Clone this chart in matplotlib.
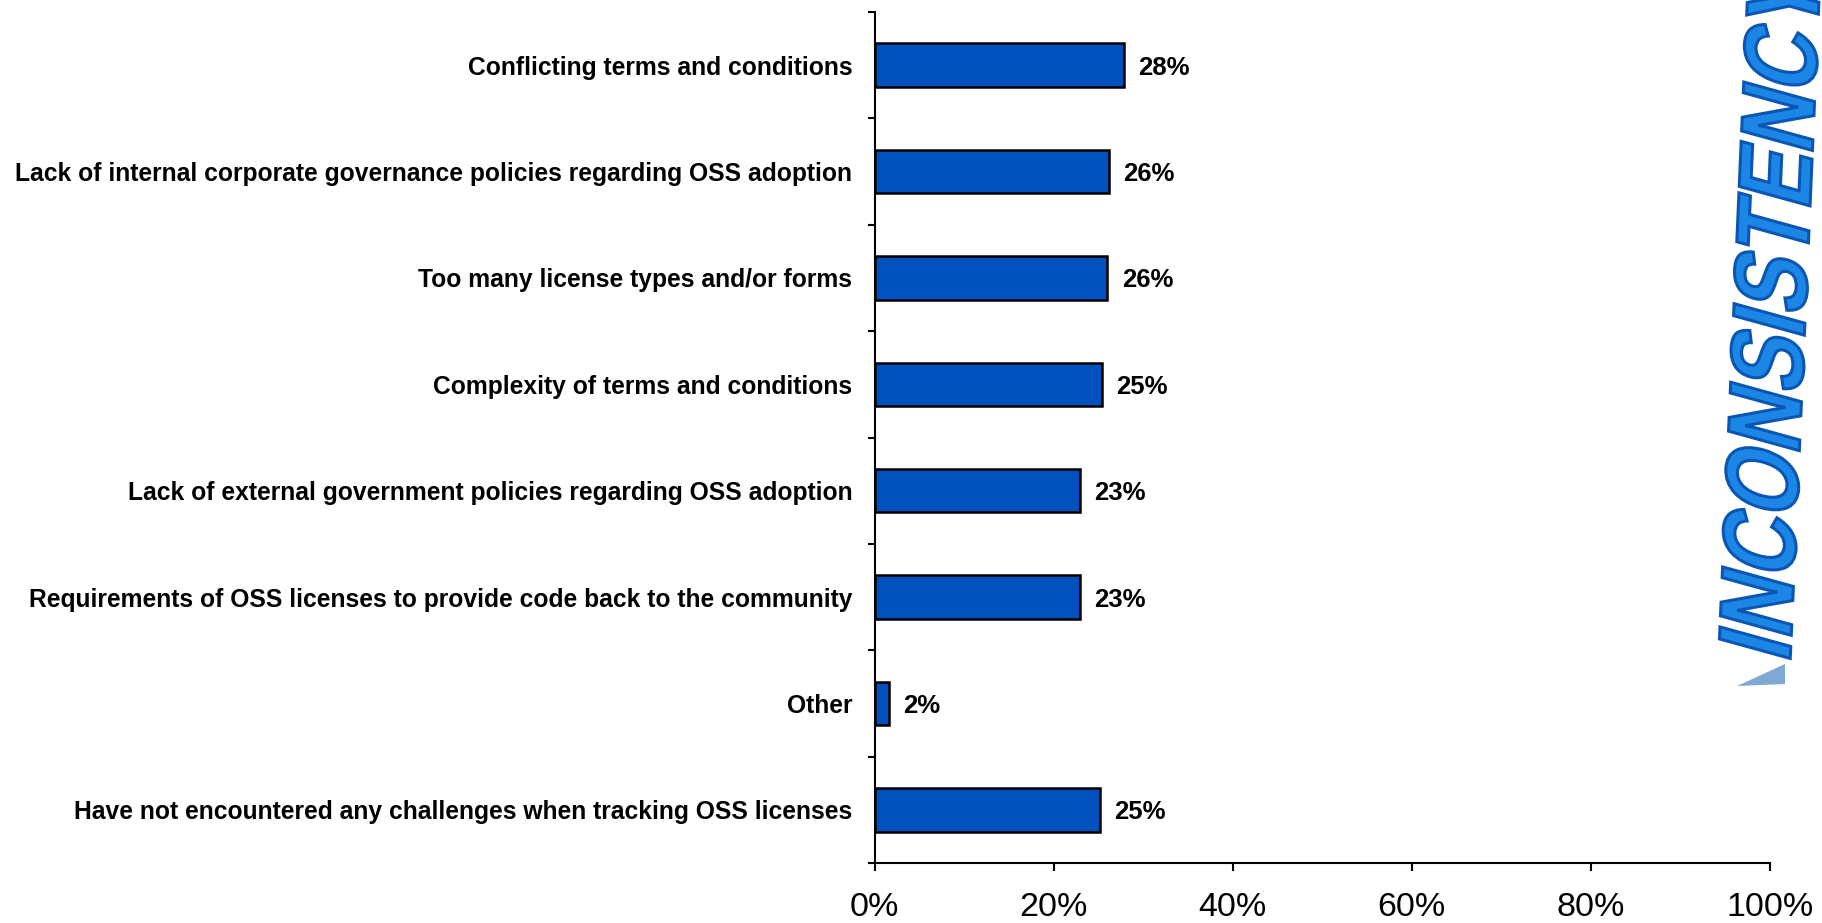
import matplotlib.pyplot as plt
from matplotlib.ticker import FuncFormatter
from matplotlib.textpath import TextPath
from matplotlib.patches import PathPatch, Polygon
from matplotlib.font_manager import FontProperties
from matplotlib.transforms import Affine2D

categories = [
    "Conflicting terms and conditions",
    "Lack of internal corporate governance policies regarding OSS adoption",
    "Too many license types and/or forms",
    "Complexity of terms and conditions",
    "Lack of external government policies regarding OSS adoption",
    "Requirements of OSS licenses to provide code back to the community",
    "Other",
    "Have not encountered any challenges when tracking OSS licenses",
]
values = [27.8, 26.2, 26.0, 25.4, 22.9, 22.9, 1.6, 25.2]
value_labels = ["28%", "26%", "26%", "25%", "23%", "23%", "2%", "25%"]
x_ticks = [0, 20, 40, 60, 80, 100]
word_art = "INCONSISTENCY"

FONT = ["Liberation Sans", "DejaVu Sans"]
plt.rcParams["font.family"] = FONT

DPI = 100
fig = plt.figure(figsize=(18.22, 9.23), dpi=DPI)
ax = fig.add_axes([0.480, 0.065, 0.4915, 0.922])

y = list(range(len(categories)))
bars = ax.barh(y, values, height=0.41, color="#0050BE", edgecolor="black",
               linewidth=1.8)

for bar, lab in zip(bars, value_labels):
    ax.text(bar.get_width() + 1.6, bar.get_y() + bar.get_height() / 2, lab,
            va="center_baseline", ha="left", fontsize=18.5, fontweight="bold")

ax.set_ylim(len(categories) - 0.5, -0.5)
ax.set_xlim(0, 100)

# labels at bar centres, tick marks on the category boundaries
ax.set_yticks(y)
ax.set_yticklabels(categories, fontsize=17.7, fontweight="bold")
ax.tick_params(axis="y", length=0, pad=16)
ax.set_yticks([i + 0.5 for i in range(-1, len(categories))], minor=True)
ax.tick_params(axis="y", which="minor", length=5, width=1.5, direction="out")

ax.set_xticks(x_ticks)
ax.xaxis.set_major_formatter(FuncFormatter(lambda v, p: f"{v:.0f}%"))
ax.tick_params(axis="x", length=6, width=1.5, direction="out", pad=15,
               labelsize=24.5)

for side in ["top", "right"]:
    ax.spines[side].set_visible(False)
for side in ["left", "bottom"]:
    ax.spines[side].set_linewidth(1.5)

# word art down the right edge (pixel coords, y from the bottom)
tp = TextPath((0, 0), word_art, size=104,
              prop=FontProperties(family="Liberation Sans", weight="bold"))
tr = (Affine2D().skew_deg(16, 0).scale(0.8, 1).rotate_deg(87.5)
      .translate(1790, 923 - 664))
fig.add_artist(PathPatch(tp, transform=tr, facecolor="#1C86E6",
                         edgecolor="#0A56B2", linewidth=2.2))
# faint reflection under the first letter
fig.add_artist(Polygon([(1737, 923 - 686), (1785, 923 - 664),
                        (1785, 923 - 684)], closed=True,
                       transform=Affine2D(), facecolor="#7FA8D2",
                       edgecolor="none"))

fig.savefig("out.png", dpi=DPI)
